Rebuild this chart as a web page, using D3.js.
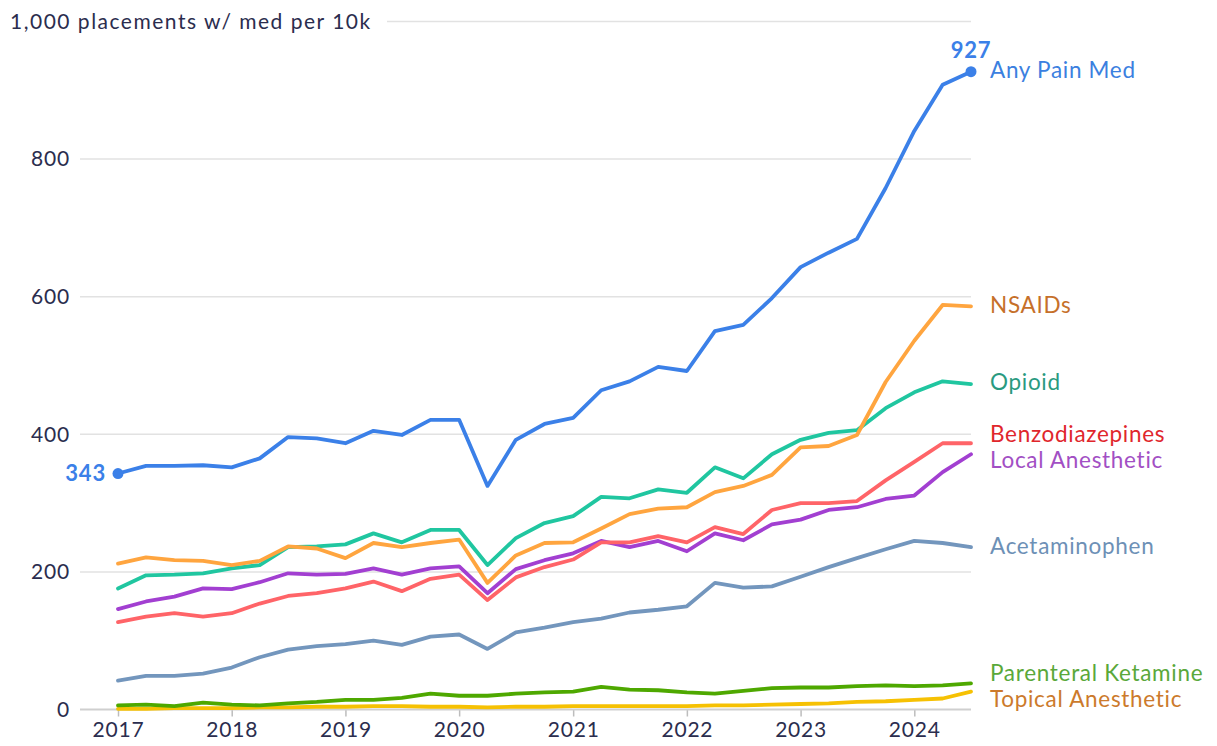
<!DOCTYPE html>
<html lang="en">
<head>
    <meta charset="UTF-8">
    <title>Pain Med Placements</title>
    <script src="https://d3js.org/d3.v7.min.js"></script>
    <style>
        body { margin: 0; background: #fff; }
        svg text { font-family: Lato, "Open Sans", sans-serif; }
    </style>
</head>
<body>
    <svg id="chart"></svg>

    <script>
        // quarterly periods
        const quarters = [
            "2017-01", "2017-04", "2017-07", "2017-10",
            "2018-01", "2018-04", "2018-07", "2018-10",
            "2019-01", "2019-04", "2019-07", "2019-10",
            "2020-01", "2020-04", "2020-07", "2020-10",
            "2021-01", "2021-04", "2021-07", "2021-10",
            "2022-01", "2022-04", "2022-07", "2022-10",
            "2023-01", "2023-04", "2023-07", "2023-10",
            "2024-01", "2024-04", "2024-07"
        ];

        const anyPainMed = [343, 354, 354, 355, 352, 365, 396, 394, 387, 405, 399, 421, 421, 325, 392, 415, 424, 464, 477, 498, 492, 550, 559, 598, 643, 664, 684, 758, 841, 908, 927];
        const nsaids = [212, 221, 217, 216, 210, 216, 237, 234, 220, 242, 236, 242, 247, 184, 224, 242, 243, 263, 284, 292, 294, 316, 325, 341, 381, 383, 399, 476, 536, 588, 586];
        const opioid = [176, 195, 196, 198, 205, 210, 236, 237, 240, 256, 243, 261, 261, 210, 249, 271, 281, 309, 307, 320, 315, 352, 336, 371, 392, 402, 406, 438, 461, 477, 473];
        const benzodiazepines = [127, 135, 140, 135, 140, 154, 165, 169, 176, 186, 172, 190, 196, 159, 192, 207, 218, 243, 243, 252, 243, 265, 255, 290, 300, 300, 303, 333, 360, 387, 387];
        const localAnesthetic = [146, 157, 164, 176, 175, 185, 198, 196, 197, 205, 196, 205, 208, 169, 204, 217, 227, 245, 236, 245, 230, 256, 246, 269, 276, 290, 294, 306, 311, 345, 371];
        const acetaminophen = [42, 49, 49, 52, 61, 76, 87, 92, 95, 100, 94, 106, 109, 88, 112, 119, 127, 132, 141, 145, 150, 184, 177, 179, 193, 207, 220, 233, 245, 242, 236];
        const parenteralKetamine = [6, 7, 5, 10, 7, 6, 9, 11, 14, 14, 17, 23, 20, 20, 23, 25, 26, 33, 29, 28, 25, 23, 27, 31, 32, 32, 34, 35, 34, 35, 38];
        const topicalAnesthetic = [1, 1, 2, 2, 2, 3, 3, 4, 4, 5, 5, 4, 4, 3, 4, 4, 5, 5, 5, 5, 5, 6, 6, 7, 8, 9, 11, 12, 14, 16, 26];

        const yTicks = [0, 200, 400, 600, 800, 1000];
        const xTickYears = ["2017", "2018", "2019", "2020", "2021", "2022", "2023", "2024"];

        // drawn bottom to top
        const series = [
            { name: "Topical Anesthetic", values: topicalAnesthetic, line: "#f6c103", label: "#cc7a2c" },
            { name: "Parenteral Ketamine", values: parenteralKetamine, line: "#4ea800", label: "#5aa83a" },
            { name: "Acetaminophen", values: acetaminophen, line: "#7396bd", label: "#6d90b6" },
            { name: "Local Anesthetic", values: localAnesthetic, line: "#a23fd1", label: "#a24fc4" },
            { name: "Benzodiazepines", values: benzodiazepines, line: "#ff6468", label: "#e0262c" },
            { name: "Opioid", values: opioid, line: "#20c6a0", label: "#2a9a80" },
            { name: "NSAIDs", values: nsaids, line: "#ffa53f", label: "#c6702a" },
            { name: "Any Pain Med", values: anyPainMed, line: "#3b80e8", label: "#3b80e0" }
        ];

        const width = 1217, height = 746;
        const textColor = "#2b2d4e";
        const parseQ = d3.timeParse("%Y-%m");
        const dates = quarters.map(parseQ);

        const svg = d3.select("#chart")
            .attr("width", width)
            .attr("height", height);

        const x = d3.scaleTime()
            .domain([dates[0], dates[dates.length - 1]])
            .range([118, 971]);

        const y = d3.scaleLinear()
            .domain([0, 1000])
            .range([709.5, 21.5]);

        // gridlines
        svg.append("g")
            .selectAll("line")
            .data(yTicks.filter(d => d > 0))
            .join("line")
            .attr("x1", d => d === 1000 ? 387 : 80)
            .attr("x2", 971)
            .attr("y1", d => y(d))
            .attr("y2", d => y(d))
            .attr("stroke", "#e2e2e2")
            .attr("stroke-width", 1.5);

        // y labels
        svg.append("g")
            .selectAll("text")
            .data(yTicks)
            .join("text")
            .attr("x", d => d === 1000 ? 10 : 70)
            .attr("y", d => y(d))
            .attr("dy", "0.35em")
            .attr("text-anchor", d => d === 1000 ? "start" : "end")
            .attr("font-size", 21)
            .style("letter-spacing", d => d === 1000 ? "1.5px" : "0.8px")
            .attr("fill", textColor)
            .text(d => d === 1000 ? "1,000 placements w/ med per 10k" : d3.format(",")(d));

        // x axis
        const xAxis = d3.axisBottom(x)
            .tickValues(xTickYears.map(yr => parseQ(yr + "-01")))
            .tickFormat(d3.timeFormat("%Y"))
            .tickSize(7)
            .tickPadding(6);

        const xg = svg.append("g")
            .attr("transform", `translate(0,${y(0)})`)
            .call(xAxis);
        xg.select(".domain").remove();
        xg.selectAll(".tick line").attr("stroke", "#bdbdbd").attr("stroke-width", 1.5);
        xg.selectAll(".tick text")
            .attr("font-size", 21)
            .attr("font-family", "Lato, sans-serif")
            .style("letter-spacing", "0.8px")
            .attr("fill", textColor);

        // baseline
        svg.append("line")
            .attr("x1", 80).attr("x2", 971)
            .attr("y1", y(0)).attr("y2", y(0))
            .attr("stroke", "#cfcfcf")
            .attr("stroke-width", 2);

        const line = d3.line()
            .x((d, i) => x(dates[i]))
            .y(d => y(d));

        svg.append("g")
            .selectAll("path")
            .data(series)
            .join("path")
            .attr("d", d => line(d.values))
            .attr("fill", "none")
            .attr("stroke", d => d.line)
            .attr("stroke-width", 3.8)
            .attr("stroke-linejoin", "round")
            .attr("stroke-linecap", "round");

        // end labels with simple collision avoidance
        const labels = series.map(s => ({
            s: s,
            y: y(s.values[s.values.length - 1])
        })).sort((a, b) => a.y - b.y);

        const gap = 26;
        for (let iter = 0; iter < 50; iter++) {
            for (let i = 1; i < labels.length; i++) {
                const a = labels[i - 1], b = labels[i];
                const overlap = gap - (b.y - a.y);
                if (overlap > 0) {
                    a.y -= overlap / 2;
                    b.y += overlap / 2;
                }
            }
        }

        svg.append("g")
            .selectAll("text")
            .data(labels)
            .join("text")
            .attr("x", 990)
            .attr("y", d => d.y - 1.5)
            .attr("dy", "0.35em")
            .attr("font-size", 22.5)
            .style("letter-spacing", "0.7px")
            .attr("fill", d => d.s.label)
            .text(d => d.s.name);

        // first / last points on Any Pain Med
        const apm = series.find(s => s.name === "Any Pain Med");
        const ends = [
            { i: 0, v: apm.values[0] },
            { i: apm.values.length - 1, v: apm.values[apm.values.length - 1] }
        ];

        svg.append("g")
            .selectAll("circle")
            .data(ends)
            .join("circle")
            .attr("cx", d => x(dates[d.i]))
            .attr("cy", d => y(d.v))
            .attr("r", 5.5)
            .attr("fill", apm.line);

        svg.append("text")
            .attr("x", x(dates[0]) - 12)
            .attr("y", y(ends[0].v))
            .attr("dy", "0.35em")
            .attr("text-anchor", "end")
            .attr("font-size", 22)
            .attr("font-weight", 700)
            .style("letter-spacing", "0.8px")
            .attr("fill", apm.line)
            .text(ends[0].v);

        svg.append("text")
            .attr("x", x(dates[ends[1].i]))
            .attr("y", y(ends[1].v) - 14)
            .attr("text-anchor", "middle")
            .attr("font-size", 22)
            .attr("font-weight", 700)
            .style("letter-spacing", "0.8px")
            .attr("fill", apm.line)
            .text(ends[1].v);
    </script>
</body>
</html>
